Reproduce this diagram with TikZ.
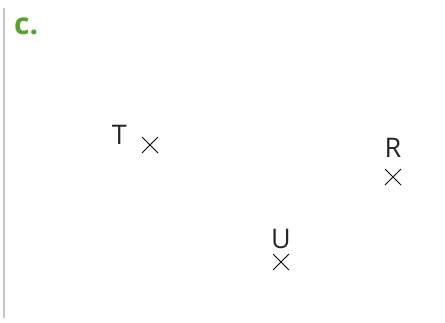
\documentclass[tikz,border=0pt]{standalone}
\usepackage{fontspec}
\setmainfont{Open Sans}
\usetikzlibrary{shapes.misc,positioning}
\definecolor{partgreen}{HTML}{5AA02C}

\begin{document}
\begin{tikzpicture}[
    x=1pt, y=-1pt,
    pointmark/.style={cross out, draw, line width=0.9pt, minimum size=15pt, inner sep=0pt},
    pointlabel/.style={font=\fontsize{27}{32}\selectfont, inner sep=0pt, text=black!85},
    partlabel/.style={font=\bfseries\fontsize{30}{36}\selectfont, text=partgreen, inner sep=0pt}
]
    \useasboundingbox (0,0) rectangle (445,323);
    \draw[black!22, line width=2pt] (4,8) -- (4,318);
    \node[partlabel, anchor=base west] (part) at (14,35) {c.};

    % points
    \node[pointmark] (Tx) at (150,145) {};
    \node[pointmark] (Rx) at (393,177) {};
    \node[pointmark] (Ux) at (281,262) {};

    % labels
    \node[pointlabel, anchor=south east] (T) at ([xshift=-23pt]Tx.center) {T};
    \node[pointlabel, above=11pt of Rx] (R) {R};
    \node[pointlabel, above=5pt of Ux] (U) {U};
\end{tikzpicture}
\end{document}
